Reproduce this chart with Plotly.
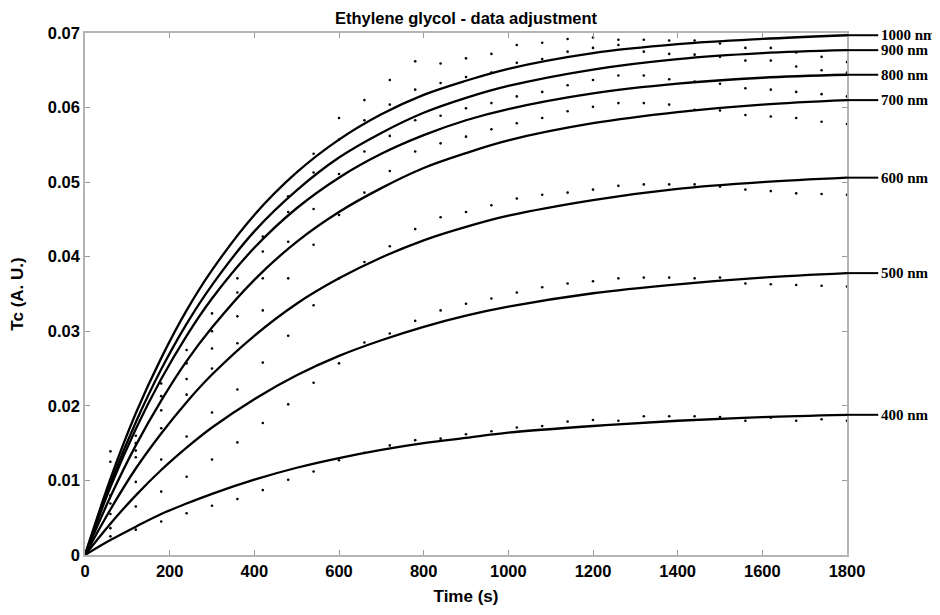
import plotly.graph_objects as go

# ---- data ----
wavelength_labels = ["1000 nm", "900 nm", "800 nm", "700 nm", "600 nm", "500 nm", "400 nm"]

meas_t = [60, 120, 180, 240, 300, 360, 420, 480, 540, 600, 660, 720, 780, 840, 900,
          960, 1020, 1080, 1140, 1200, 1260, 1320, 1380, 1440, 1500, 1560, 1620, 1680, 1740, 1800]

meas_1000 = [0.0139, 0.0160, 0.0230, 0.0275, 0.0324, 0.0371, 0.0427, 0.0481, 0.0538, 0.0586,
             0.0610, 0.0637, 0.0662, 0.0659, 0.0666, 0.0672, 0.0684, 0.0687, 0.0692, 0.0694,
             0.0691, 0.0691, 0.0690, 0.0690, 0.0686, 0.0680, 0.0680, 0.0674, 0.0668, 0.0661]
meas_900 = [0.0125, 0.0150, 0.0213, 0.0257, 0.0300, 0.0352, 0.0407, 0.0460, 0.0513, 0.0557,
            0.0583, 0.0604, 0.0624, 0.0633, 0.0641, 0.0647, 0.0660, 0.0665, 0.0675, 0.0680,
            0.0684, 0.0675, 0.0672, 0.0671, 0.0668, 0.0663, 0.0663, 0.0655, 0.0650, 0.0647]
meas_800 = [0.0080, 0.0140, 0.0194, 0.0236, 0.0277, 0.0320, 0.0371, 0.0420, 0.0464, 0.0511,
            0.0541, 0.0562, 0.0583, 0.0589, 0.0599, 0.0606, 0.0615, 0.0621, 0.0630, 0.0637,
            0.0643, 0.0643, 0.0638, 0.0635, 0.0632, 0.0626, 0.0624, 0.0621, 0.0618, 0.0615]
meas_700 = [0.0069, 0.0131, 0.0170, 0.0215, 0.0250, 0.0284, 0.0328, 0.0371, 0.0416, 0.0456,
            0.0486, 0.0515, 0.0541, 0.0552, 0.0561, 0.0571, 0.0579, 0.0586, 0.0595, 0.0601,
            0.0606, 0.0606, 0.0604, 0.0597, 0.0596, 0.0590, 0.0588, 0.0586, 0.0581, 0.0578]
meas_600 = [0.0055, 0.0098, 0.0128, 0.0159, 0.0191, 0.0222, 0.0258, 0.0294, 0.0335, 0.0371,
            0.0393, 0.0414, 0.0437, 0.0453, 0.0460, 0.0469, 0.0478, 0.0483, 0.0486, 0.0490,
            0.0495, 0.0497, 0.0497, 0.0497, 0.0494, 0.0490, 0.0488, 0.0485, 0.0484, 0.0483]
meas_500 = [0.0036, 0.0065, 0.0085, 0.0105, 0.0128, 0.0151, 0.0177, 0.0202, 0.0231, 0.0257,
            0.0285, 0.0297, 0.0314, 0.0328, 0.0337, 0.0344, 0.0352, 0.0359, 0.0364, 0.0367,
            0.0371, 0.0372, 0.0372, 0.0371, 0.0372, 0.0364, 0.0363, 0.0362, 0.0361, 0.0360]
meas_400 = [0.0025, 0.0034, 0.0045, 0.0056, 0.0066, 0.0075, 0.0087, 0.0101, 0.0112, 0.0127,
            0.0137, 0.0147, 0.0154, 0.0156, 0.0162, 0.0166, 0.0171, 0.0173, 0.0179, 0.0181,
            0.0180, 0.0186, 0.0186, 0.0186, 0.0185, 0.0180, 0.0184, 0.0180, 0.0182, 0.0180]

fit_t = [0, 60, 120, 180, 240, 300, 400, 500, 600, 700, 800, 900, 1000, 1200, 1400, 1600, 1800]
fit_1000 = [0, 0.0102, 0.0190, 0.0264, 0.0328, 0.0382, 0.0456, 0.0513, 0.0557, 0.0591, 0.0617, 0.0636, 0.0652, 0.0673, 0.0685, 0.0692, 0.0697]
fit_900 = [0, 0.0096, 0.0178, 0.0249, 0.0310, 0.0362, 0.0434, 0.0489, 0.0533, 0.0566, 0.0593, 0.0613, 0.0629, 0.0651, 0.0665, 0.0673, 0.0677]
fit_800 = [0, 0.0091, 0.0169, 0.0236, 0.0294, 0.0344, 0.0412, 0.0465, 0.0506, 0.0538, 0.0563, 0.0583, 0.0598, 0.0619, 0.0632, 0.0640, 0.0644]
fit_700 = [0, 0.0078, 0.0147, 0.0207, 0.0260, 0.0305, 0.0369, 0.0420, 0.0460, 0.0492, 0.0519, 0.0539, 0.0556, 0.0579, 0.0594, 0.0604, 0.0610]
fit_600 = [0, 0.0061, 0.0116, 0.0163, 0.0205, 0.0242, 0.0294, 0.0337, 0.0371, 0.0399, 0.0422, 0.0440, 0.0455, 0.0476, 0.0491, 0.0500, 0.0506]
fit_500 = [0, 0.0042, 0.0080, 0.0114, 0.0144, 0.0171, 0.0209, 0.0241, 0.0267, 0.0288, 0.0306, 0.0321, 0.0333, 0.0351, 0.0363, 0.0372, 0.0378]
fit_400 = [0, 0.0020, 0.0038, 0.0055, 0.0069, 0.0082, 0.0101, 0.0117, 0.0130, 0.0141, 0.0150, 0.0157, 0.0164, 0.0173, 0.0180, 0.0185, 0.0188]

x_ticks = [0, 200, 400, 600, 800, 1000, 1200, 1400, 1600, 1800]
y_ticks = [0, 0.01, 0.02, 0.03, 0.04, 0.05, 0.06, 0.07]
y_tick_text = ["0", "0.01", "0.02", "0.03", "0.04", "0.05", "0.06", "0.07"]

measured = [meas_1000, meas_900, meas_800, meas_700, meas_600, meas_500, meas_400]
fitted = [fit_1000, fit_900, fit_800, fit_700, fit_600, fit_500, fit_400]

SANS = "Liberation Sans, Arial, sans-serif"
SERIF = "Liberation Serif, Times New Roman, serif"

fig = go.Figure()
for lab, m in zip(wavelength_labels, measured):
    fig.add_trace(go.Scatter(x=meas_t, y=m, mode="markers", name=lab + " data",
                             marker=dict(color="black", size=2.6), showlegend=False))
for lab, f in zip(wavelength_labels, fitted):
    fig.add_trace(go.Scatter(x=fit_t, y=f, mode="lines", name=lab,
                             line=dict(color="black", width=2.3, shape="spline"),
                             showlegend=False))

shapes = []
annotations = []
for lab, f in zip(wavelength_labels, fitted):
    shapes.append(dict(type="line", xref="paper", yref="y", x0=1.0, x1=1.041,
                       y0=f[-1], y1=f[-1], line=dict(color="black", width=2)))
    annotations.append(dict(xref="paper", yref="y", x=1.042, y=f[-1], text=lab,
                            showarrow=False, xanchor="left", yanchor="middle",
                            font=dict(family=SERIF, size=15, color="black", weight="bold")))

axis_common = dict(showgrid=False, zeroline=False, showline=True, mirror="ticks",
                   linecolor="#b4b4b4", linewidth=1.5, ticks="inside", ticklen=5,
                   tickcolor="#9a9a9a", tickwidth=1, automargin=False,
                   tickfont=dict(family=SANS, size=16.5, color="black", weight="bold"))

# page body adds an 8px offset, so the figure is 8px smaller with shifted margins
fig.update_layout(
    width=932, height=607,
    margin=dict(l=77, r=93, t=25, b=60),
    paper_bgcolor="white", plot_bgcolor="white",
    title=dict(text="Ethylene glycol - data adjustment", x=(466 - 8) / 932, xanchor="center",
               xref="container", yref="container", y=1 - 10.5 / 607, yanchor="middle",
               font=dict(family=SANS, size=16.5, color="black", weight="bold")),
    xaxis=dict(range=[0, 1800], tickvals=x_ticks, ticktext=[str(v) for v in x_ticks],
               title=dict(text="Time (s)", standoff=12,
                          font=dict(family=SANS, size=17, color="black", weight="bold")),
               **axis_common),
    yaxis=dict(range=[0, 0.07], tickvals=y_ticks, ticktext=y_tick_text,
               title=dict(text="Tc (A. U.)", standoff=21,
                          font=dict(family=SANS, size=17, color="black", weight="bold")),
               **axis_common),
    shapes=shapes,
    annotations=annotations,
)

fig.write_html("out.html")
